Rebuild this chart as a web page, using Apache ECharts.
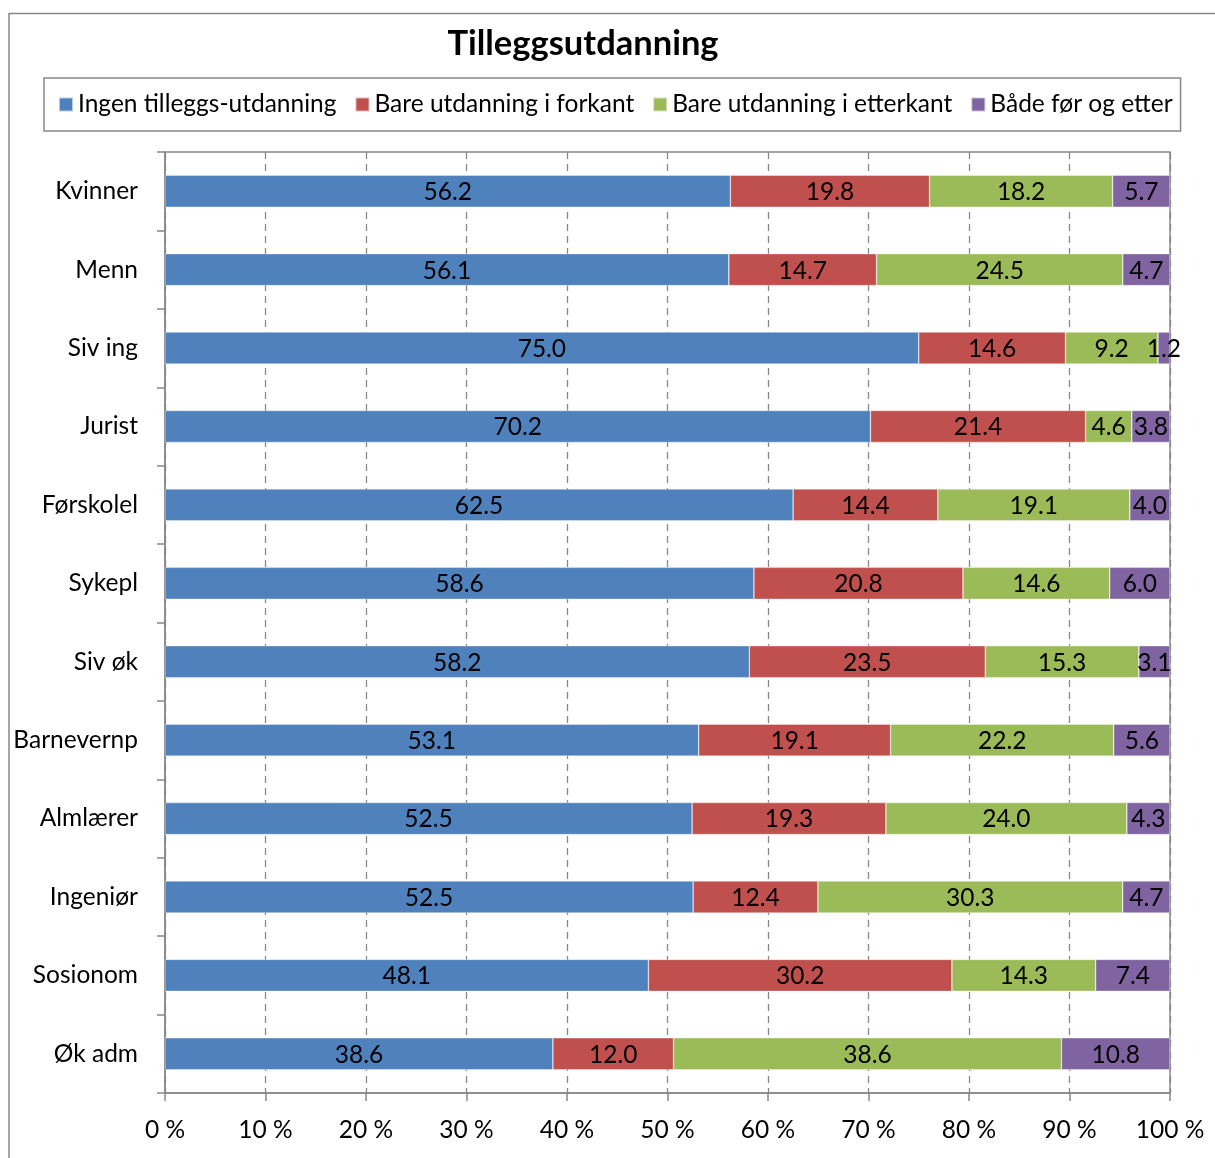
<!DOCTYPE html>
<html>
<head>
<meta charset="utf-8">
<script src="https://cdn.jsdelivr.net/npm/echarts@6/dist/echarts.min.js"></script>
<style>html,body{margin:0;padding:0;background:#fff}#c{width:1215px;height:1158px}</style>
</head>
<body>
<div id="c"></div>
<script>
const categories = ["Kvinner","Menn","Siv ing","Jurist","Førskolel","Sykepl","Siv øk","Barnevernp","Almlærer","Ingeniør","Sosionom","Øk adm"];
const seriesNames = ["Ingen tilleggs-utdanning","Bare utdanning i forkant","Bare utdanning i etterkant","Både før og etter"];
const ingen   = [56.2,56.1,75.0,70.2,62.5,58.6,58.2,53.1,52.5,52.5,48.1,38.6];
const forkant = [19.8,14.7,14.6,21.4,14.4,20.8,23.5,19.1,19.3,12.4,30.2,12.0];
const etterkant=[18.2,24.5, 9.2, 4.6,19.1,14.6,15.3,22.2,24.0,30.3,14.3,38.6];
const begge   = [ 5.7, 4.7, 1.2, 3.8, 4.0, 6.0, 3.1, 5.6, 4.3, 4.7, 7.4,10.8];
const xTicks = [0,10,20,30,40,50,60,70,80,90,100];
const colors = ["#4F81BD","#C0504D","#9BBB59","#8064A2"];

const raw = [ingen, forkant, etterkant, begge];
const totals = categories.map((_, i) => raw.reduce((s, a) => s + a[i], 0));
const FONT = "Lato";
const FS = 24.5;

const series = raw.map((arr, k) => ({
  name: seriesNames[k],
  type: "bar",
  stack: "total",
  barWidth: 32,
  itemStyle: { color: colors[k], borderColor: "rgba(255,255,255,0.6)", borderWidth: 0.6 },
  label: {
    show: true,
    position: "inside",
    color: "#000",
    fontFamily: FONT,
    fontSize: FS,
    offset: [0, 1],
    formatter: p => arr[p.dataIndex].toFixed(1)
  },
  data: arr.map((v, i) => v / totals[i] * 100)
}));

const chart = echarts.init(document.getElementById("c"));
chart.setOption({
  animation: false,
  backgroundColor: "#fff",
  textStyle: { fontFamily: FONT },
  title: {
    text: "Tilleggsutdanning",
    left: 578, top: 21, textAlign: "center",
    textStyle: { fontFamily: FONT, fontSize: 34.5, fontWeight: "bold", color: "#000" }
  },
  legend: {
    left: 44, top: 78,
    padding: [14, 8, 14, 14],
    borderColor: "#888", borderWidth: 1.5,
    itemWidth: 14, itemHeight: 14, itemGap: 18,
    icon: "rect",
    textStyle: { fontFamily: FONT, fontSize: FS, color: "#000", padding: [2, 0, 0, 0] },
    data: seriesNames
  },
  color: colors,
  grid: {
    left: 165, right: 45, top: 152, bottom: 65,
    show: true, borderColor: "#888", borderWidth: 1.5, containLabel: false
  },
  xAxis: {
    type: "value", min: 0, max: 100, interval: 10,
    axisLine: { show: true, lineStyle: { color: "#888", width: 1.5 } },
    axisTick: { show: true, length: 8, lineStyle: { color: "#888", width: 1.5 } },
    axisLabel: {
      color: "#000", fontFamily: FONT, fontSize: FS, margin: 25,
      formatter: v => xTicks.includes(v) ? v + " %" : ""
    },
    splitLine: { show: true, lineStyle: { color: "#888", width: 1.3, type: [7, 5] } }
  },
  yAxis: {
    type: "category", inverse: true, data: categories,
    axisLine: { show: true, lineStyle: { color: "#888", width: 1.5 } },
    axisTick: { show: true, length: 8, lineStyle: { color: "#888", width: 1.5 } },
    axisLabel: { color: "#000", fontFamily: FONT, fontSize: FS, margin: 27, padding: [2, 0, 0, 0] }
  },
  graphic: [{
    type: "rect", silent: true,
    shape: { x: 9, y: 13.5, width: 1400, height: 1400 },
    style: { fill: "none", stroke: "#888", lineWidth: 1.5 }
  }],
  series: series
});
</script>
</body>
</html>
